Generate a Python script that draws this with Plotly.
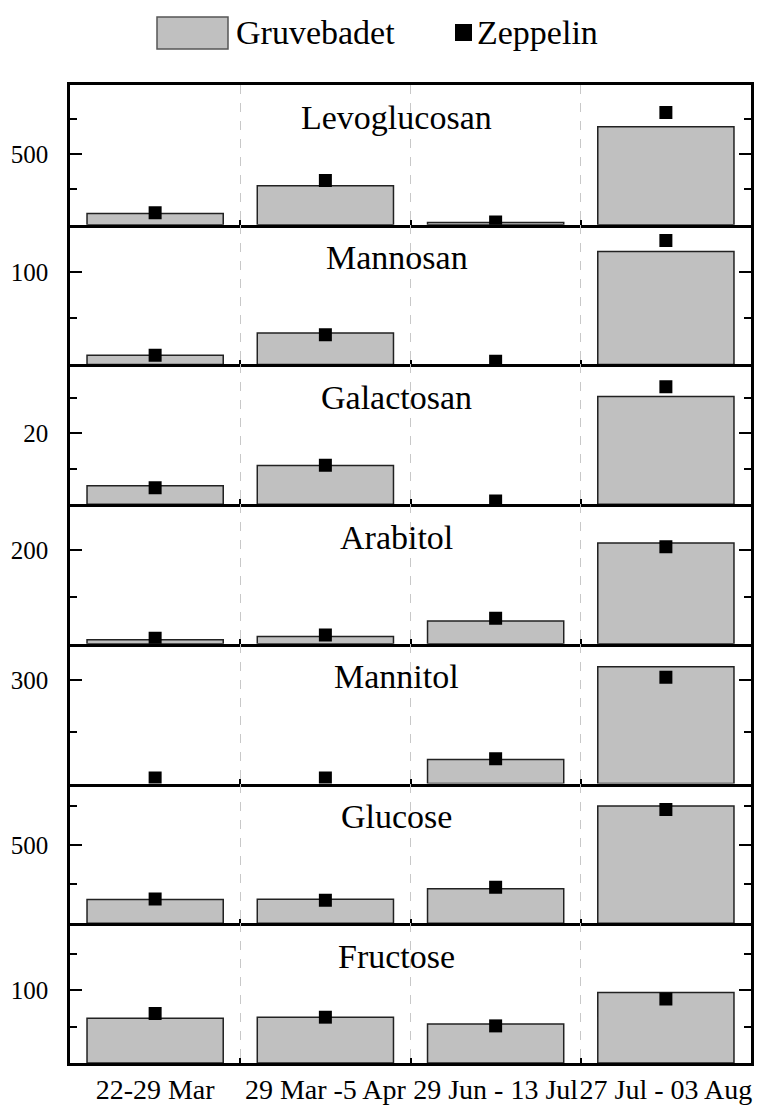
import plotly.graph_objects as go
from plotly.subplots import make_subplots

categories = ["22-29 Mar", "29 Mar -5 Apr", "29 Jun - 13 Jul", "27 Jul - 03 Aug"]
compounds = ["Levoglucosan", "Mannosan", "Galactosan", "Arabitol", "Mannitol", "Glucose", "Fructose"]

# None = no visible Gruvebadet bar in the reference
levoglucosan_gruvebadet = [80, 276, 15, 695]
levoglucosan_zeppelin = [85, 314, 20, 795]
mannosan_gruvebadet = [10, 34, None, 122]
mannosan_zeppelin = [10, 32, 3.5, 134]
galactosan_gruvebadet = [5.2, 10.9, None, 30.4]
galactosan_zeppelin = [4.6, 11.0, 0.9, 33.2]
arabitol_gruvebadet = [9, 16, 49, 216]
arabitol_zeppelin = [12, 19, 55, 208]
mannitol_gruvebadet = [None, None, 70, 339]
mannitol_zeppelin = [16, 16, 72, 308]
glucose_gruvebadet = [152, 154, 222, 752]
glucose_zeppelin = [156, 147, 231, 729]
fructose_gruvebadet = [61.5, 63, 53.6, 97]
fructose_zeppelin = [68, 63, 51, 88]

gruvebadet = [levoglucosan_gruvebadet, mannosan_gruvebadet, galactosan_gruvebadet,
              arabitol_gruvebadet, mannitol_gruvebadet, glucose_gruvebadet, fructose_gruvebadet]
zeppelin = [levoglucosan_zeppelin, mannosan_zeppelin, galactosan_zeppelin,
            arabitol_zeppelin, mannitol_zeppelin, glucose_zeppelin, fructose_zeppelin]

y_major = [500, 100, 20, 200, 300, 500, 100]
y_minor = [250, 50, 10, 100, 150, 250, 50]
y_max = [990, 151, 39.5, 299, 405, 895, 192]

FONT = "Liberation Serif"
W, H = 759, 1106
L, R, T, B = 70, 8, 85, 43

fig = make_subplots(rows=7, cols=1, shared_xaxes=True, vertical_spacing=0)

for i in range(7):
    r = i + 1
    fig.add_trace(go.Bar(x=categories, y=gruvebadet[i], name="Gruvebadet", width=0.8,
                         marker=dict(color="#c0c0c0", line=dict(color="#222222", width=1.5)),
                         showlegend=False), row=r, col=1)
    fig.add_trace(go.Scatter(x=categories, y=zeppelin[i], name="Zeppelin", mode="markers",
                             marker=dict(symbol="square", size=13, color="black"),
                             showlegend=False, cliponaxis=True), row=r, col=1)
    fig.update_yaxes(row=r, col=1, range=[0, y_max[i]], tickmode="array", tickvals=[y_major[i]],
                     ticks="inside", ticklen=12, tickwidth=2, tickcolor="black",
                     minor=dict(dtick=y_minor[i], tick0=0, ticks="inside", ticklen=7, tickwidth=2, tickcolor="black"),
                     showline=True, linewidth=2.5, linecolor="black", mirror="ticks",
                     showgrid=False, zeroline=False, ticklabelstandoff=14, automargin=False,
                     tickfont=dict(family=FONT, size=25, color="black"))
    fig.update_xaxes(row=r, col=1, type="category", range=[-0.5, 3.5], tickson="boundaries",
                     ticks="inside", ticklen=5, tickwidth=2, tickcolor="black",
                     showline=True, linewidth=2.5, linecolor="black", mirror=(r == 1),
                     showgrid=True, gridcolor="#c8c8c8", griddash="dash", gridwidth=1,
                     showticklabels=(r == 7), tickangle=0, automargin=False,
                     tickfont=dict(family=FONT, size=28, color="black"))
    yref = "y domain" if r == 1 else f"y{r} domain"
    xref = "x domain" if r == 1 else f"x{r} domain"
    fig.add_annotation(text=compounds[i], x=0.48, y=1 - 33 / 140, xref=xref, yref=yref,
                       xanchor="center", yanchor="middle", showarrow=False,
                       font=dict(family=FONT, size=34, color="black"))

# top ticks at category centers for the first panel
fig.update_layout(xaxis8=dict(overlaying="x", anchor="y", side="top", range=[-0.5, 3.5],
                              tickmode="array", tickvals=[0, 1, 2, 3], ticks="inside",
                              ticklen=11, tickwidth=2, tickcolor="black", automargin=False,
                              showticklabels=False, showgrid=False, zeroline=False, showline=False))

# custom legend
pw = W - L - R
ph = H - T - B
def px(x):
    return (x - L) / pw
def py(y):
    return (H - B - y) / ph

fig.add_shape(type="rect", xref="paper", yref="paper", x0=px(157), x1=px(228), y0=py(49), y1=py(17),
              fillcolor="#c0c0c0", line=dict(color="#555555", width=1.5))
fig.add_annotation(text="Gruvebadet", xref="paper", yref="paper", x=px(234), y=py(33),
                   xanchor="left", yanchor="middle", showarrow=False,
                   font=dict(family=FONT, size=34, color="black"))
fig.add_shape(type="rect", xref="paper", yref="paper", x0=px(455), x1=px(472), y0=py(41), y1=py(24),
              fillcolor="black", line=dict(color="black", width=0))
fig.add_annotation(text="Zeppelin", xref="paper", yref="paper", x=px(475), y=py(33),
                   xanchor="left", yanchor="middle", showarrow=False,
                   font=dict(family=FONT, size=34, color="black"))

fig.update_layout(width=W, height=H, margin=dict(l=L, r=R, t=T, b=B),
                  paper_bgcolor="white", plot_bgcolor="white", bargap=0.2,
                  showlegend=False, font=dict(family=FONT, color="black"))

fig.write_html("out.html")
